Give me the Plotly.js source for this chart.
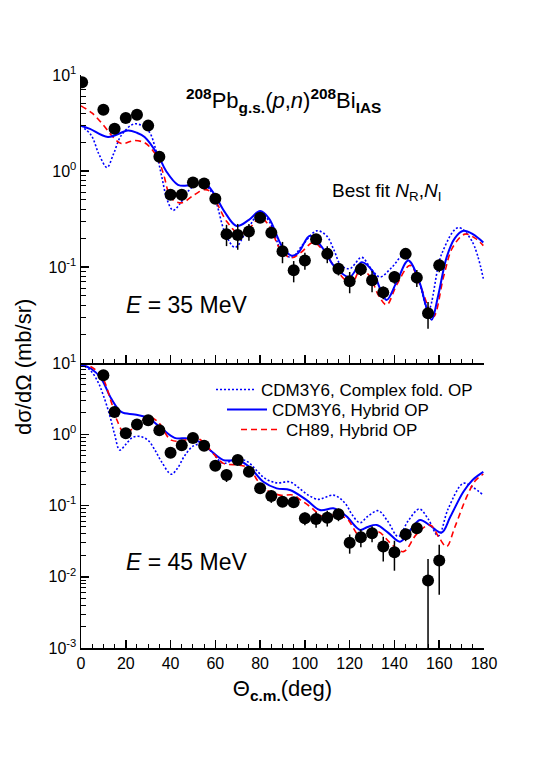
<!DOCTYPE html>
<html>
<head>
<meta charset="utf-8">
<script src="https://cdn.plot.ly/plotly-3.0.1.min.js"></script>
<style>
  html, body { margin: 0; padding: 0; background: #fff; }
  #myPlot { width: 538px; height: 763px; }
</style>
</head>
<body>
<div id="myPlot"></div>
<script>
// measured points, E = 35 MeV (top panel)
const theta35 = [0.5, 10, 15, 20, 25, 30, 35, 40, 45, 50, 55, 60, 65, 70, 75, 80, 85, 90, 95, 100, 105, 110, 115, 120, 125, 130, 135, 140, 145, 150, 155, 160];
const sig35 = [8.4, 4.35, 2.75, 3.57, 3.86, 2.97, 1.41, 0.567, 0.567, 0.76, 0.74, 0.515, 0.22, 0.216, 0.234, 0.326, 0.228, 0.146, 0.0923, 0.117, 0.195, 0.137, 0.096, 0.071, 0.095, 0.0728, 0.0544, 0.0787, 0.137, 0.0775, 0.033, 0.104];
const relErr35 = [0, 0.05, 0.05, 0.05, 0.05, 0.05, 0.08, 0.12, 0.1, 0.08, 0.08, 0.1, 0.25, 0.3, 0.2, 0.1, 0.12, 0.25, 0.25, 0.2, 0.1, 0.2, 0.15, 0.25, 0.15, 0.25, 0.15, 0.15, 0.1, 0.2, 0.31, 0.15];

// measured points, E = 45 MeV (bottom panel)
const theta45 = [10, 15, 20, 25, 30, 35, 40, 45, 50, 55, 60, 65, 70, 75, 80, 85, 90, 95, 100, 105, 110, 115, 120, 125, 130, 135, 140, 145, 150, 155, 160];
const sig45 = [6.73, 2.06, 1.03, 1.37, 1.57, 1.14, 0.549, 0.703, 0.889, 0.689, 0.361, 0.267, 0.434, 0.297, 0.174, 0.136, 0.113, 0.111, 0.0662, 0.0647, 0.0675, 0.0753, 0.0301, 0.0359, 0.0408, 0.0265, 0.0221, 0.0395, 0.048, 0.00885, 0.0169];
const relErr45 = [0.05, 0.06, 0.06, 0.06, 0.06, 0.06, 0.08, 0.08, 0.06, 0.08, 0.1, 0.2, 0.08, 0.1, 0.1, 0.2, 0.15, 0.1, 0.2, 0.25, 0.25, 0.2, 0.3, 0.28, 0.25, 0.38, 0.45, 0.2, 0.15, 0.999, 0.67];

// CDM3Y6, complex folded OP
const thCf35 = [0, 4.6, 8, 11.6, 14.5, 18, 24, 30, 33, 35.9, 38.5, 41.1, 44, 47.8, 51, 53.7, 57, 60, 64.3, 68.8, 74, 80, 84, 89.6, 94.1, 99, 105.3, 109.7, 113, 116, 120, 125.4, 129, 133.5, 139, 144, 149.9, 155.1, 161.1, 168.5, 174.5, 179.7];
const sCf35 = [2.97, 2.35, 1.5, 1.09, 1.5, 2.35, 3.1, 2.64, 1.8, 0.91, 0.5, 0.389, 0.45, 0.614, 0.72, 0.747, 0.66, 0.5, 0.229, 0.16, 0.238, 0.367, 0.3, 0.148, 0.126, 0.17, 0.238, 0.211, 0.15, 0.105, 0.096, 0.126, 0.1, 0.0787, 0.1, 0.131, 0.085, 0.0357, 0.137, 0.257, 0.188, 0.0756];
const thCf45 = [0, 4, 7.6, 10, 12.8, 15, 17.3, 20, 23, 26.5, 30, 33, 36, 40.3, 43, 46.3, 50, 53, 57.6, 63.6, 69.5, 74.5, 78, 82.2, 87.4, 93.3, 97, 101.5, 106, 109, 112.7, 115.7, 118.7, 121, 124.6, 128, 132.8, 137, 141.7, 146, 151.1, 155, 159.6, 164, 170.8, 175, 179.7];
const sCf45 = [9.5, 8.0, 5.4, 3.5, 1.85, 1.0, 0.6, 0.72, 0.9, 0.93, 0.82, 0.6, 0.41, 0.275, 0.33, 0.5, 0.68, 0.72, 0.598, 0.39, 0.458, 0.41, 0.32, 0.24, 0.208, 0.215, 0.18, 0.14, 0.122, 0.13, 0.14, 0.126, 0.1, 0.075, 0.0574, 0.07, 0.0845, 0.06, 0.0366, 0.06, 0.0893, 0.065, 0.0374, 0.09, 0.205, 0.18, 0.14];

// CDM3Y6, hybrid OP
const thHy35 = [0, 4, 12, 21, 25, 28.4, 34.4, 38, 43.3, 47.8, 52, 56, 59.7, 64, 69.5, 75, 80, 84, 89.6, 94.1, 97, 102.3, 108.2, 112, 115.7, 120.1, 125.4, 130.5, 133.5, 136.5, 141, 146.2, 151.4, 154, 156.6, 159.5, 163.3, 167, 170.8, 175, 179.7];
const sHy35 = [2.97, 2.75, 2.26, 2.64, 2.5, 2.26, 1.46, 1.0, 0.718, 0.707, 0.75, 0.72, 0.567, 0.38, 0.268, 0.31, 0.382, 0.32, 0.167, 0.131, 0.14, 0.211, 0.154, 0.11, 0.0886, 0.0787, 0.112, 0.0886, 0.06, 0.0453, 0.07, 0.117, 0.0672, 0.04, 0.0282, 0.05, 0.126, 0.2, 0.238, 0.22, 0.18];
const thHy45 = [0, 4.6, 9.1, 13.5, 18, 24, 29.9, 35.9, 41.8, 47.8, 53.7, 57.6, 63.6, 70.3, 75.2, 81.4, 87.4, 93.3, 100.8, 106.7, 112.7, 115.7, 118.7, 124.6, 128, 132.1, 137, 142.5, 147, 151.4, 156, 161.1, 165, 170.8, 175, 179.7];
const sHy45 = [9.5, 8.3, 6.0, 3.17, 2.06, 1.89, 1.70, 1.21, 0.89, 0.873, 0.76, 0.6, 0.434, 0.427, 0.349, 0.215, 0.174, 0.165, 0.119, 0.0865, 0.0913, 0.082, 0.07, 0.0454, 0.05, 0.0533, 0.042, 0.0311, 0.045, 0.0627, 0.052, 0.0416, 0.07, 0.156, 0.23, 0.297];

// CH89, hybrid OP
const thCh35 = [0, 5, 10, 14, 18, 24, 28.4, 31, 34.4, 37, 40.3, 44.8, 50.8, 55.2, 57.6, 61, 65, 71, 75, 80, 84, 89.3, 94, 98, 103.8, 108, 114.2, 116, 119, 121, 125, 129, 133, 136.5, 141, 147, 152, 157.4, 162, 166, 171.5, 176, 179.7];
const sCh35 = [4.77, 4.0, 3.0, 2.3, 1.93, 2.08, 1.97, 1.75, 1.35, 0.9, 0.52, 0.466, 0.57, 0.64, 0.614, 0.45, 0.3, 0.22, 0.25, 0.326, 0.27, 0.148, 0.125, 0.14, 0.18, 0.15, 0.0923, 0.082, 0.07, 0.067, 0.095, 0.08, 0.05, 0.0403, 0.065, 0.104, 0.06, 0.0305, 0.08, 0.16, 0.22, 0.2, 0.167];
const thCh45 = [0, 4.6, 9.1, 13.5, 16, 19.5, 24, 29.9, 34.4, 40.3, 46.3, 50.8, 53, 56, 59.7, 63.6, 71, 75.2, 79, 82.9, 88.9, 94.8, 98, 102.3, 108.2, 112.7, 115.7, 118.7, 124.6, 128, 132.8, 138, 144, 150, 155.9, 160, 163.3, 167, 172.3, 176, 179.7];
const sCh45 = [10.1, 8.8, 6.7, 2.84, 1.6, 1.03, 1.27, 1.75, 1.49, 0.827, 0.827, 0.92, 0.85, 0.7, 0.51, 0.39, 0.369, 0.332, 0.22, 0.165, 0.14, 0.14, 0.12, 0.0964, 0.0698, 0.0736, 0.0698, 0.066, 0.0366, 0.04, 0.043, 0.03, 0.0225, 0.04, 0.0533, 0.035, 0.0265, 0.05, 0.133, 0.22, 0.276];

const xTicks = [0, 20, 40, 60, 80, 100, 120, 140, 160, 180];
const yTicksTop = [0.1, 1, 10];
const yTicksBottom = [0.001, 0.01, 0.1, 1, 10];
const legendNames = ['CDM3Y6, Complex fold. OP', 'CDM3Y6, Hybrid OP', 'CH89, Hybrid OP'];

const BLUE = '#0000ff', RED = '#ff0000';
const FONT = 'Liberation Sans, Arial, Helvetica, sans-serif';

function pointTrace(x, y, rel, xa, ya) {
    const err = y.map((v, i) => v * rel[i]);
    return {
        x: x, y: y, xaxis: xa, yaxis: ya, type: 'scatter', mode: 'markers',
        marker: { color: 'black', size: 12 },
        error_y: { type: 'data', array: err, arrayminus: err, color: 'black', thickness: 1.5, width: 0 },
        showlegend: false
    };
}

function curve(x, y, xa, ya, color, dash, width, name, legend) {
    return {
        x: x, y: y, xaxis: xa, yaxis: ya, type: 'scatter', mode: 'lines',
        line: { color: color, dash: dash, width: width, shape: 'spline', smoothing: 1 },
        name: name || '', showlegend: !!legend, legend: legend || 'legend',
        hoverinfo: 'skip'
    };
}

// log minor ticks 2..9 for every decade
function minorVals(lo, hi) {
    const out = [];
    for (let e = lo; e < hi; e++) for (let m = 2; m <= 9; m++) out.push(m * Math.pow(10, e));
    return out;
}

const data = [
    curve(thCf35, sCf35, 'x2', 'y2', BLUE, '2px,2px', 1.6),
    curve(thCh35, sCh35, 'x2', 'y2', RED, '6px,4px', 1.6),
    curve(thHy35, sHy35, 'x2', 'y2', BLUE, 'solid', 2),
    pointTrace(theta35, sig35, relErr35, 'x2', 'y2'),
    curve(thCf45, sCf45, 'x', 'y', BLUE, '2px,2px', 1.6, legendNames[0], 'legend'),
    curve(thHy45, sHy45, 'x', 'y', BLUE, 'solid', 2, legendNames[1], 'legend2'),
    curve(thCh45, sCh45, 'x', 'y', RED, '6px,4px', 1.6, legendNames[2], 'legend3'),
    pointTrace(theta45, sig45, relErr45, 'x', 'y')
];

const xCommon = {
    range: [0, 180], tickvals: xTicks, ticks: 'inside', ticklen: 8, tickwidth: 1.5, tickcolor: 'black',
    showline: true, linecolor: 'black', linewidth: 1.5, showgrid: false, zeroline: false,
    minor: { dtick: 5, tick0: 0, ticks: 'inside', ticklen: 4, tickwidth: 1, tickcolor: 'black' },
    tickfont: { size: 16 }
};

const yCommon = {
    type: 'log', ticks: 'inside', ticklen: 8, tickwidth: 1.5, tickcolor: 'black',
    showline: true, linecolor: 'black', linewidth: 1.5, showgrid: false, zeroline: false,
    tickfont: { size: 16 }
};

function legendBox(px, py) {
    return {
        x: (px - 81) / 403, y: (648 - py) / 573, xanchor: 'left', yanchor: 'middle',
        bgcolor: 'rgba(0,0,0,0)', borderwidth: 0, itemwidth: 40,
        font: { size: 17 }
    };
}

// text placed by its centre, in pixels of the 538x763 page
function label(text, px, py, size, extra) {
    return Object.assign({
        text: text, xref: 'paper', yref: 'paper', x: (px - 81) / 403, y: (648 - py) / 573,
        xanchor: 'center', yanchor: 'middle', showarrow: false, font: { size: size }
    }, extra || {});
}

const split = 285 / 573;

const layout = {
    width: 538, height: 763,
    margin: { l: 81, r: 54, t: 75, b: 115 },
    paper_bgcolor: 'white', plot_bgcolor: 'white',
    font: { family: FONT, color: 'black' },
    xaxis: Object.assign({}, xCommon, {
        anchor: 'y',
        title: { text: 'Θ<b><sub>c.m.</sub></b>(deg)', font: { size: 22 }, standoff: 10 }
    }),
    xaxis2: Object.assign({}, xCommon, { anchor: 'y2', matches: 'x', showticklabels: false }),
    yaxis: Object.assign({}, yCommon, {
        domain: [0, split], range: [-3, 1], anchor: 'x',
        tickvals: yTicksBottom, ticktext: yTicksBottom.map(v => '10<sup>' + Math.round(Math.log10(v)) + '</sup>'),
        minor: { tickvals: minorVals(-3, 1), ticks: 'inside', ticklen: 5, tickwidth: 1, tickcolor: 'black' }
    }),
    yaxis2: Object.assign({}, yCommon, {
        domain: [split, 1], range: [-2, 1], anchor: 'x2',
        tickvals: yTicksTop, ticktext: yTicksTop.map(v => '10<sup>' + Math.round(Math.log10(v)) + '</sup>'),
        minor: { tickvals: minorVals(-2, 1), ticks: 'inside', ticklen: 5, tickwidth: 1, tickcolor: 'black' }
    }),
    legend: legendBox(211, 390),
    legend2: legendBox(222, 410),
    legend3: legendBox(236, 430),
    showlegend: true,
    annotations: [
        label('<b><sup>208</sup></b>Pb<b><sub>g.s.</sub></b>(<i>p</i>,<i>n</i>)<b><sup>208</sup></b>Bi<b><sub>IAS</sub></b>', 283, 100, 22),
        label('Best fit <i>N</i><sub>R</sub>,<i>N</i><sub>I</sub>', 386, 192, 19),
        label('<i>E</i> = 35 MeV', 186, 305, 23),
        label('<i>E</i> = 45 MeV', 186, 562, 23),
        label('dσ/dΩ (mb/sr)', 23, 367, 22, { textangle: -90 })
    ]
};

Plotly.newPlot(document.getElementById('myPlot'), data, layout, { staticPlot: true });
</script>
</body>
</html>
